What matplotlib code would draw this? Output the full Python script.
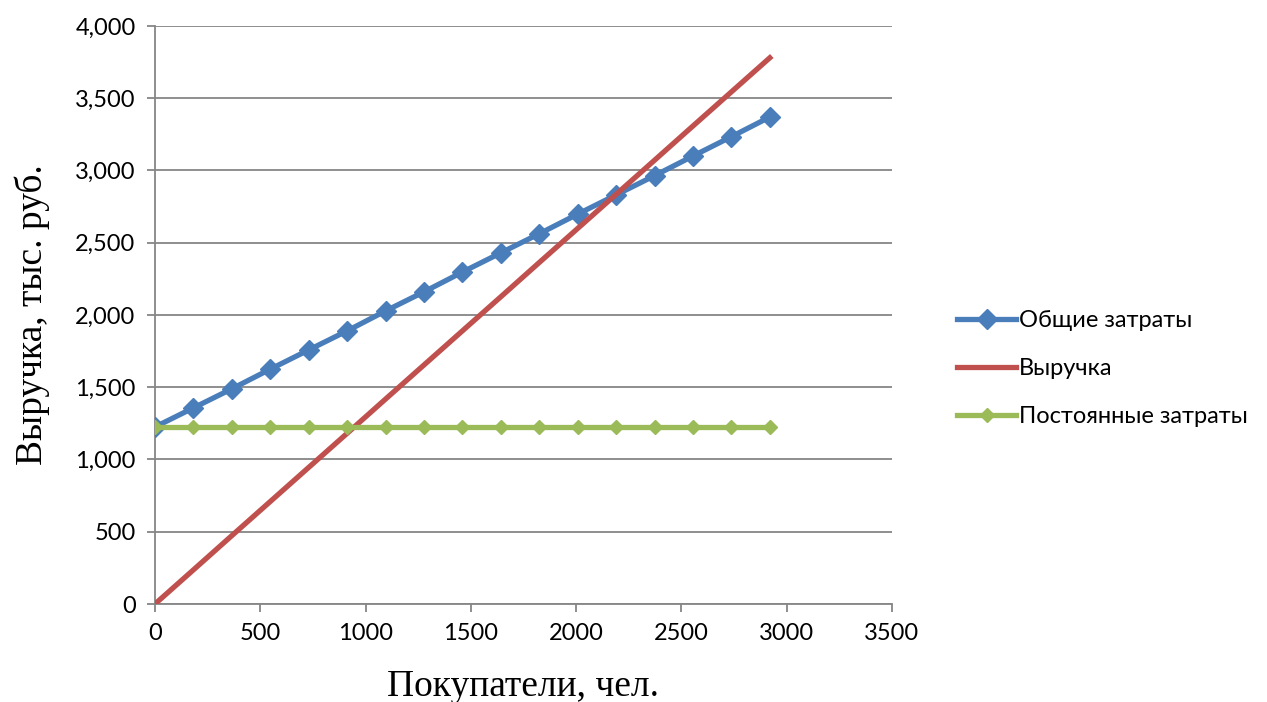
import matplotlib
matplotlib.use("Agg")
import matplotlib.pyplot as plt
from matplotlib.ticker import FuncFormatter

# data
customers = [0, 182.5, 365, 547.5, 730, 912.5, 1095, 1277.5, 1460, 1642.5,
             1825, 2007.5, 2190, 2372.5, 2555, 2737.5, 2920]
total_costs = [1225, 1357, 1489, 1625, 1758, 1890, 2028, 2160, 2297, 2430,
               2562, 2698, 2831, 2964, 3100, 3234, 3370]
revenue = [0, 236, 473, 709, 945, 1181, 1418, 1654, 1890, 2126,
           2363, 2599, 2835, 3071, 3308, 3544, 3780]
fixed_costs = [1228] * 17

tick_font = "Lato"
title_font = "Liberation Serif"

fig = plt.figure(figsize=(12.67, 7.02), dpi=100)
ax = fig.add_axes([0.1223, 0.1396, 0.5817, 0.8234])

ax.plot(customers, total_costs, color="#4A7EBB", lw=3.8, marker="D", ms=10,
        mec="#4A7EBB", mfc="#4A7EBB", label="Общие затраты", zorder=3)
ax.plot(customers, revenue, color="#C0504D", lw=3.8, label="Выручка", zorder=4)
ax.plot(customers, fixed_costs, color="#9BBB59", lw=3.8, marker="D", ms=7,
        mec="#9BBB59", mfc="#9BBB59", label="Постоянные затраты", zorder=5)

ax.set_xlim(0, 3500)
ax.set_ylim(0, 4000)
ax.set_xticks(range(0, 3501, 500))
ax.set_yticks(range(0, 4001, 500))
ax.yaxis.set_major_formatter(FuncFormatter(lambda v, p: f"{int(v):,}"))

ax.grid(axis="y", color="#868686", lw=1.3)
ax.set_axisbelow(True)
for s in ["top", "right"]:
    ax.spines[s].set_visible(False)
for s in ["left", "bottom"]:
    ax.spines[s].set_color("#868686")
    ax.spines[s].set_linewidth(1.3)
ax.tick_params(axis="both", color="#868686", width=1.3, length=6,
               labelsize=17, pad=8)
for lab in ax.get_xticklabels() + ax.get_yticklabels():
    lab.set_fontfamily(tick_font)

ax.set_xlabel("Покупатели, чел.", fontsize=27, family=title_font, labelpad=18)
ax.set_ylabel("Выручка, тыс. руб.", fontsize=27, family=title_font, labelpad=18)

leg = ax.legend(loc="center left", bbox_to_anchor=(1.06, 0.407), frameon=False,
                prop={"family": tick_font, "size": 17}, handlelength=2.5,
                handletextpad=0.1, labelspacing=1.15)

fig.savefig("out.png", dpi=100)
